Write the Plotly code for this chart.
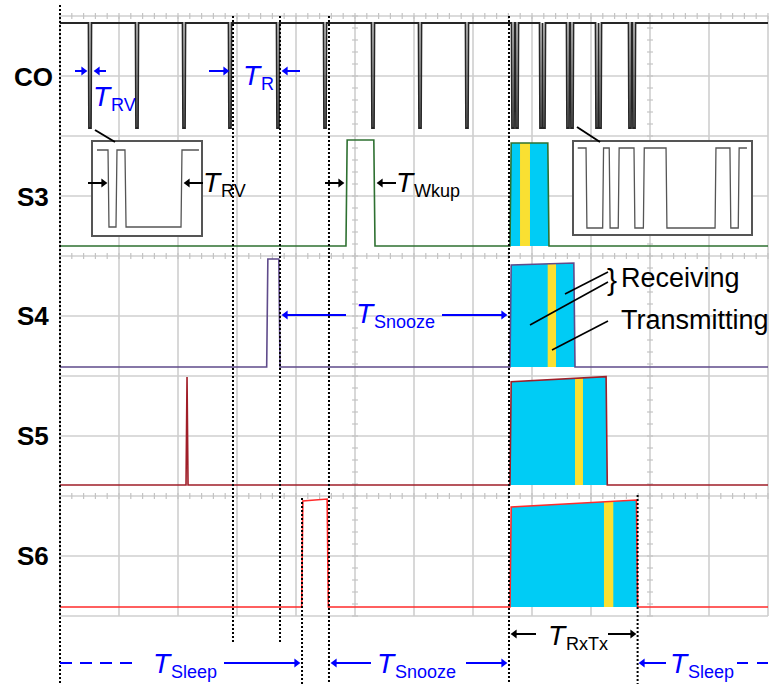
import math
import plotly.graph_objects as go

# ---------------- data: time in scope divisions, levels in divisions inside each row ----------
rows = ["CO", "S3", "S4", "S5", "S6"]
row_base = [8, 6, 4, 2, 0]
trace_colors = ["#262626", "#2e7031", "#5f4b8b", "#a01e28", "#ff2b2b"]

# CO receiver-valid spikes (centre times)
co_spike_times = [0.508, 1.305, 2.102, 2.881, 3.695, 4.492, 5.305, 6.102, 6.898,
                  7.678, 7.746, 8.153, 8.203, 8.610, 8.678, 9.102, 9.153, 9.661, 9.729]
co_high = 1.883
co_low = 0.133
co_spike_width = 0.05

# sensor rows S3..S6
s_baseline = [0.167, 0.15, 0.183, 0.15]
wake_start = [4.847, 3.503, 2.136, 4.096]
wake_end = [5.339, 3.729, 2.170, 4.548]
wake_edge = [0.02, 0.02, 0.017, 0.02]
wake_top_start = [1.933, 1.95, 1.983, 1.917]
wake_top_end = [1.933, 1.95, 1.983, 1.95]
rxtx_start = [7.627, 7.627, 7.627, 7.627]
rxtx_end = [8.288, 8.729, 9.276, 9.79]
rxtx_top_start = [1.883, 1.85, 1.905, 1.817]
rxtx_top_end = [1.883, 1.883, 1.99, 1.933]
tx_start = [7.797, 8.266, 8.729, 9.22]
tx_end = [7.966, 8.407, 8.864, 9.378]

# zoomed insets (normalised time 0..100, logic level 0/1)
inset1_t = [3.7, 13.9, 14.8, 21.3, 22.2, 29.6, 30.6, 81.5, 82.4, 98.1]
inset1_level = [1, 1, 0, 0, 1, 1, 0, 0, 1, 1]
inset2_t = [2.1, 6.8, 7.3, 16.2, 16.7, 19.9, 20.4, 25.0, 25.5, 33.9, 34.4, 39.2, 39.7,
            52.0, 52.5, 79.7, 80.2, 88.1, 88.6, 92.8, 93.3, 97.7]
inset2_level = [1, 1, 0, 0, 1, 1, 0, 0, 1, 1, 0, 0, 1, 1, 0, 0, 1, 1, 0, 0, 1, 1]

# event marker (dotted) times
marker_times = [0.0, 2.932, 3.729, 4.102, 4.559, 7.61, 9.79]

# timing labels: (main letter, subscript)
timing_labels = [("T", "RV"), ("T", "R"), ("T", "Snooze"), ("T", "Sleep"), ("T", "Snooze"),
                 ("T", "Sleep"), ("T", "RV"), ("T", "Wkup"), ("T", "RxTx")]

# ---------------- layout helpers --------------------------------------------------------------
W, H = 772, 684
FONT = "Arial, Liberation Sans, sans-serif"
CYAN = "#00ccf5"
YELLOW = "#fae032"
BLUE = "#0000ff"


def X(px):
    return (px - 60) / 59


def Y(py):
    return (616 - py) / 60


traces = []

# grid
gx, gy = [], []
for i in range(13):
    gx += [i, i, None]
    gy += [0, 10, None]
for j in range(11):
    gx += [0, 12, None]
    gy += [j, j, None]
traces.append(go.Scatter(x=gx, y=gy, mode="lines", line=dict(color="#cfcfcf", width=1.6),
                         hoverinfo="skip"))
# minor ticks
tx, ty = [], []
for j in (10, 6, 2):
    for k in range(61):
        t = k * 0.2
        tx += [t, t, None]
        ty += [j - 0.05, j + 0.05, None]
for i in (5, 10):
    for k in range(51):
        v = k * 0.2
        tx += [i - 0.05, i + 0.05, None]
        ty += [v, v, None]
traces.append(go.Scatter(x=tx, y=ty, mode="lines", line=dict(color="#c4c4c4", width=1.2),
                         hoverinfo="skip"))


def top_at(t, i):
    f = (t - rxtx_start[i]) / (rxtx_end[i] - rxtx_start[i])
    return rxtx_top_start[i] + f * (rxtx_top_end[i] - rxtx_top_start[i])


# fills (receiving = cyan, transmitting = yellow)
for i in range(4):
    base = row_base[i + 1]
    b = s_baseline[i]
    e = 0.02
    fx = [rxtx_start[i], rxtx_start[i] + e, rxtx_end[i] - e, rxtx_end[i], rxtx_start[i]]
    fy = [b, rxtx_top_start[i], rxtx_top_end[i], b, b]
    traces.append(go.Scatter(x=fx, y=[v + base for v in fy], mode="none", fill="toself",
                             fillcolor=CYAN, hoverinfo="skip"))
    yx = [tx_start[i], tx_start[i], tx_end[i], tx_end[i], tx_start[i]]
    yy = [b, top_at(tx_start[i], i), top_at(tx_end[i], i), b, b]
    traces.append(go.Scatter(x=yx, y=[v + base for v in yy], mode="none", fill="toself",
                             fillcolor=YELLOW, hoverinfo="skip"))

# CO trace
cx, cy = [0], [co_high]
for t in co_spike_times:
    h = co_spike_width / 2
    cx += [t - h, t - h + 0.008, t + h - 0.008, t + h]
    cy += [co_high, co_low, co_low, co_high]
cx.append(12)
cy.append(co_high)
traces.append(go.Scatter(x=cx, y=[v + row_base[0] for v in cy], mode="lines",
                         line=dict(color=trace_colors[0], width=1.8), hoverinfo="skip"))

# S3..S6 traces
for i in range(4):
    base = row_base[i + 1]
    b = s_baseline[i]
    ev = [(wake_start[i], wake_end[i], wake_top_start[i], wake_top_end[i], wake_edge[i]),
          (rxtx_start[i], rxtx_end[i], rxtx_top_start[i], rxtx_top_end[i], 0.02)]
    ev.sort()
    sx, sy = [0], [b]
    for t0, t1, h0, h1, e in ev:
        sx += [t0, t0 + e, t1 - e, t1]
        sy += [b, h0, h1, b]
    sx.append(12)
    sy.append(b)
    traces.append(go.Scatter(x=sx, y=[v + base for v in sy], mode="lines",
                             line=dict(color=trace_colors[i + 1], width=1.6), hoverinfo="skip"))

# dotted event markers
m_top = [10.183, 10, 10, Y(498), 10, 10, Y(495)]
m_bot = [Y(684), Y(644), Y(644), Y(684), Y(684), Y(684), Y(684)]
mx, my = [], []
for t, a, bb in zip(marker_times, m_top, m_bot):
    mx += [t, t, None]
    my += [a, bb, None]
traces.append(go.Scatter(x=mx, y=my, mode="lines",
                         line=dict(color="black", width=2, dash="2px,2px"), hoverinfo="skip"))

# insets (own axes, drawn above the main panel)
for k, (tt, lv) in enumerate([(inset1_t, inset1_level), (inset2_t, inset2_level)]):
    xa = "x%d" % (k + 2)
    ya = "y%d" % (k + 2)
    traces.append(go.Scatter(x=[-5, 105, 105, -5, -5], y=[-1, -1, 2, 2, -1], mode="none",
                             fill="toself", fillcolor="white", xaxis=xa, yaxis=ya,
                             hoverinfo="skip"))
    traces.append(go.Scatter(x=tt, y=lv, mode="lines", line=dict(color="#555555", width=1.3),
                             xaxis=xa, yaxis=ya, hoverinfo="skip"))


# annotation layer (x4/y4, same scale as main panel, drawn last, transparent background)
def add_lines(segs, color, width, dash=None):
    lx, ly = [], []
    for x0, y0, x1, y1 in segs:
        lx += [X(x0), X(x1), None]
        ly += [Y(y0), Y(y1), None]
    ln = dict(color=color, width=width)
    if dash:
        ln["dash"] = dash
    traces.append(go.Scatter(x=lx, y=ly, mode="lines", line=ln, hoverinfo="skip",
                             xaxis="x4", yaxis="y4"))


add_lines([(95, 130, 115, 142), (577, 127, 600, 142)], "black", 2)
add_lines([(565, 294, 608, 272), (530, 325, 608, 282), (552, 350, 608, 321)], "black", 1.6)
add_lines([(60, 663, 133, 663)], BLUE, 2, "12px,8px")
add_lines([(737, 663, 772, 663)], BLUE, 2, "11px,9px")

# timing arrows (horizontal): (head_x, tail_x, y)
blue_arrows = [(88, 75, 71), (93, 106, 71), (230, 209, 71), (281, 300, 71),
               (281, 346, 315), (508, 442, 315), (301, 224, 663), (330, 371, 663),
               (508, 466, 663), (638, 666, 663)]
black_arrows = [(108, 88, 183), (183, 203, 183), (345, 325, 183), (376, 396, 183),
                (510, 536, 634), (637, 608, 634)]
HEAD = 8.0
for arrows, col in ((blue_arrows, BLUE), (black_arrows, "black")):
    lx, ly, hx, hy, sym = [], [], [], [], []
    for xh, xt, yy in arrows:
        d = 1 if xh > xt else -1
        c = xh - d * HEAD / math.sqrt(3)
        lx += [X(xt), X(c), None]
        ly += [Y(yy), Y(yy), None]
        hx.append(X(c))
        hy.append(Y(yy))
        sym.append("triangle-right" if d > 0 else "triangle-left")
    traces.append(go.Scatter(x=lx, y=ly, mode="lines", line=dict(color=col, width=2),
                             hoverinfo="skip", xaxis="x4", yaxis="y4"))
    traces.append(go.Scatter(x=hx, y=hy, mode="markers",
                             marker=dict(symbol=sym, size=HEAD, color=col, line=dict(width=0)),
                             hoverinfo="skip", xaxis="x4", yaxis="y4"))

fig = go.Figure(traces)

ann = []


def text_at(left, baseline, text, size, color, italic=False):
    t = "<i>%s</i>" % text if italic else text
    ann.append(dict(x=X(left), y=Y(baseline - 0.3465 * size), xref="x", yref="y",
                    xanchor="left", yanchor="middle", showarrow=False, text=t, borderpad=0,
                    font=dict(family=FONT, size=size, color=color)))


# (left, baseline, colour) for each timing label; subscript follows the italic T
label_pos = [(92, 106, BLUE), (242, 85, BLUE), (355, 323, BLUE),
             (152, 673, BLUE), (376, 673, BLUE), (669, 673, BLUE),
             (202, 192, "black"), (395, 192, "black"), (547, 645, "black")]
T_SIZE = 28
SUB_OFF = 17.5
for (main, sub), (left, base, col) in zip(timing_labels, label_pos):
    text_at(left, base, main, T_SIZE, col, italic=True)
    text_at(left + SUB_OFF, base + 5, sub, 18, col)

# row labels
for name, yc in zip(rows, [77, 196.5, 316, 436, 556]):
    ann.append(dict(x=X(33), y=Y(yc), xref="x", yref="y", xanchor="center", yanchor="middle",
                    showarrow=False, text="<b>%s</b>" % name, borderpad=0,
                    font=dict(family=FONT, size=26, color="black")))

text_at(620, 287, "Receiving", 27, "black")
text_at(620, 329, "Transmitting", 27, "black")
ann.append(dict(x=X(612), y=Y(279), xref="x", yref="y", xanchor="center", yanchor="middle",
                showarrow=False, text="}", borderpad=0,
                font=dict(family=FONT, size=30, color="black")))

axis_box = dict(showline=True, mirror=True, linecolor="#555555", linewidth=1.5,
                showticklabels=False, ticks="", showgrid=False, zeroline=False)
fig.update_layout(
    width=W, height=H, margin=dict(l=0, r=0, t=0, b=0), showlegend=False,
    paper_bgcolor="white", plot_bgcolor="rgba(0,0,0,0)",
    xaxis=dict(range=[X(0), X(W)], visible=False, domain=[0, 1]),
    yaxis=dict(range=[Y(H), Y(0)], visible=False, domain=[0, 1]),
    xaxis2=dict(domain=[93 / W, 201 / W], anchor="y2", range=[0, 100], **axis_box),
    yaxis2=dict(domain=[(H - 235) / H, (H - 142) / H], anchor="x2", range=[-0.104, 1.104],
                **axis_box),
    xaxis3=dict(domain=[574 / W, 751 / W], anchor="y3", range=[0, 100], **axis_box),
    yaxis3=dict(domain=[(H - 234) / H, (H - 142) / H], anchor="x3", range=[-0.075, 1.075],
                **axis_box),
    xaxis4=dict(range=[X(0), X(W)], visible=False, domain=[0, 1], anchor="y4"),
    yaxis4=dict(range=[Y(H), Y(0)], visible=False, domain=[0, 1], anchor="x4"),
    annotations=ann,
)

fig.write_html("out.html")
